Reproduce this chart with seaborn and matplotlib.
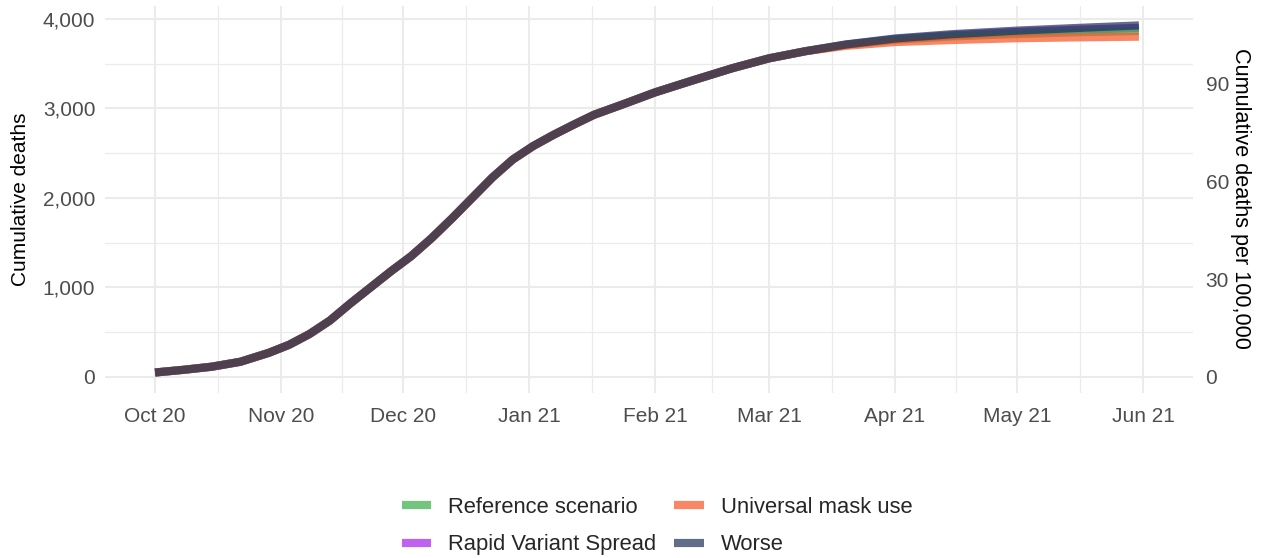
import matplotlib
matplotlib.use("Agg")
import numpy as np
import pandas as pd
import matplotlib.pyplot as plt
import matplotlib.dates as mdates
from matplotlib.lines import Line2D
import seaborn as sns

# ---------------- data ----------------
dates = ["2020-10-01", "2020-10-08", "2020-10-15", "2020-10-22", "2020-10-29",
         "2020-11-03", "2020-11-08", "2020-11-13", "2020-11-18", "2020-11-23",
         "2020-11-28", "2020-12-03", "2020-12-08", "2020-12-13", "2020-12-18",
         "2020-12-23", "2020-12-28", "2021-01-02", "2021-01-07", "2021-01-12",
         "2021-01-17", "2021-01-24", "2021-02-01", "2021-02-10", "2021-02-20",
         "2021-03-01", "2021-03-10", "2021-03-20", "2021-04-01", "2021-04-15",
         "2021-05-01", "2021-05-16", "2021-05-31"]

shared = [50, 80, 115, 170, 270, 360, 480, 630, 820, 1000, 1180, 1350, 1550, 1770,
          2000, 2230, 2430, 2580, 2705, 2820, 2930, 3045, 3180, 3310, 3450, 3560, 3640]
reference = shared + [3712, 3768, 3805, 3832, 3852, 3866]
universal = shared + [3700, 3742, 3765, 3785, 3795, 3802]
rapid = shared + [3714, 3775, 3818, 3855, 3880, 3900]
worse = shared + [3716, 3782, 3830, 3870, 3900, 3928]

legend_order = ["Reference scenario", "Rapid Variant Spread", "Universal mask use", "Worse"]
draw_order = ["Rapid Variant Spread", "Reference scenario", "Universal mask use", "Worse"]
colors = {"Reference scenario": "#38ab45",
          "Rapid Variant Spread": "#a41fea",
          "Universal mask use": "#f75524",
          "Worse": "#1c3058"}

population = 3.64e6  # deaths -> deaths per 100,000

yticks_left = [0, 1000, 2000, 3000, 4000]
yticks_right = [0, 30, 60, 90]

series = {"Reference scenario": reference, "Universal mask use": universal,
          "Rapid Variant Spread": rapid, "Worse": worse}
df = pd.concat([pd.DataFrame({"date": pd.to_datetime(dates), "deaths": v, "scenario": k})
                for k, v in series.items()], ignore_index=True)

# ---------------- style ----------------
sns.set_theme(style="whitegrid")
plt.rcParams["font.family"] = ["Liberation Sans", "DejaVu Sans"]

W, H = 1265, 558
fig = plt.figure(figsize=(W / 100, H / 100), dpi=100)
left, right, top, bottom = 105, 1193, 6, 393
ax = fig.add_axes([left / W, (H - bottom) / H, (right - left) / W, (bottom - top) / H])

sns.lineplot(data=df, x="date", y="deaths", hue="scenario", hue_order=draw_order,
             palette=colors, alpha=0.7, linewidth=5.9, legend=False, errorbar=None, ax=ax)
for ln in ax.lines:
    ln.set_solid_capstyle("butt")
    ln.set_solid_joinstyle("round")

# x axis
start = mdates.date2num(pd.Timestamp("2020-10-01"))
end = mdates.date2num(pd.Timestamp("2021-06-01"))
ax.set_xlim(start - 12.3, end + 12.3)
majors = mdates.date2num(pd.date_range("2020-10-01", "2021-06-01", freq="MS"))
ax.set_xticks(majors)
ax.set_xticks((majors[:-1] + majors[1:]) / 2, minor=True)
ax.xaxis.set_major_formatter(mdates.DateFormatter("%b %y"))

# y axis
ax.set_ylim(-179, 4145)
ax.set_yticks(yticks_left)
ax.set_yticks([500, 1500, 2500, 3500], minor=True)
ax.yaxis.set_major_formatter(matplotlib.ticker.FuncFormatter(lambda v, p: f"{int(v):,}"))

ax.grid(which="major", color="#ebebeb", linewidth=1.5)
ax.grid(which="minor", color="#ebebeb", linewidth=0.9)
ax.set_axisbelow(True)
for s in ax.spines.values():
    s.set_visible(False)

ax.tick_params(axis="both", which="both", length=0, labelsize=15, labelcolor="#4d4d4d")
ax.tick_params(axis="y", pad=7)
ax.tick_params(axis="x", pad=10)
ax.set_xlabel("")
ax.set_ylabel("Cumulative deaths", fontsize=15, color="black")
ax.yaxis.set_label_coords((20 - left) / (right - left), 0.5)
ax.yaxis.label.set_verticalalignment("center")

# secondary axis: per 100,000
ax2 = ax.secondary_yaxis("right", functions=(lambda d: d / population * 1e5,
                                             lambda r: r * population / 1e5))
ax2.set_yticks(yticks_right)
ax2.tick_params(length=0, labelsize=15, labelcolor="#4d4d4d", pad=9)
for s in ax2.spines.values():
    s.set_visible(False)
fig.text(1240 / W, 1 - 198 / H, "Cumulative deaths per 100,000", fontsize=15.6,
         color="black", rotation=-90, ha="center", va="center")

# legend
handles = [Line2D([0], [0], color=colors[k], alpha=0.7, lw=5.9, solid_capstyle="butt")
           for k in legend_order]
fig.legend(handles, legend_order, loc="center", bbox_to_anchor=(657 / W, 1 - 526 / H),
           ncol=2, frameon=False, fontsize=15.8, handlelength=1.35, handletextpad=0.77,
           columnspacing=0.82, labelspacing=0.75)

fig.savefig("out.png", dpi=100)
